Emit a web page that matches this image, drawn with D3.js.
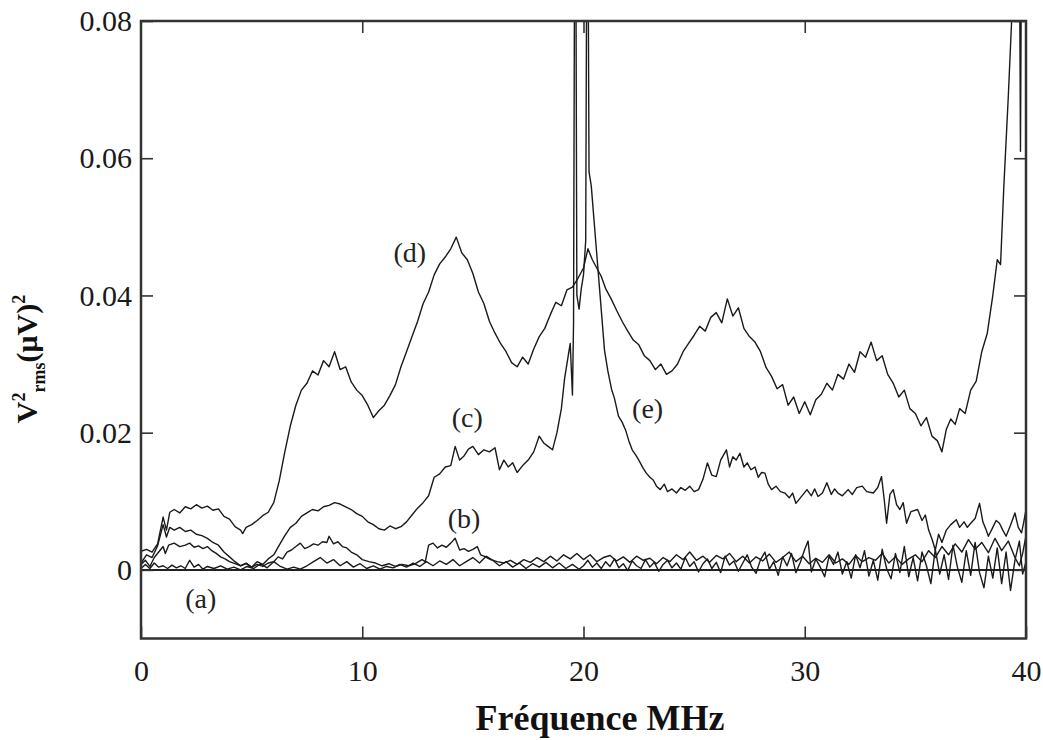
<!DOCTYPE html>
<html>
<head>
<meta charset="utf-8">
<script src="https://cdn.jsdelivr.net/npm/d3@7"></script>
<style>
  body { margin: 0; background: #fff; }
  svg text { font-family: "Liberation Serif", "Times New Roman", serif; }
</style>
</head>
<body>
<div id="chart"></div>
<script>
//constants and globals
const width = 1043,
  height = 740,
  plot = { left: 141, right: 1026, top: 21, bottom: 638.5 };

// tick values
const xTicks = [0, 10, 20, 30, 40];
const yTicks = [0, 0.02, 0.04, 0.06, 0.08];

// curve (a) : [MHz, V2rms]
const curveA = [[0,0.0002],[0.2,0.0008],[0.4,0.0002],[0.6,0.0010],[0.8,0.0004],[1.0,0.0006],[1.2,0.0002],[1.4,0.0007],[1.6,0.0003],[1.8,0.0006],[2.0,0.0002],[2.2,0.0014],[2.4,0.0004],[2.6,0.0008],[2.8,0.0001],[3.0,0.0005],[3.3,0.0002],[3.6,0.0006],[3.9,0.0001],[4.2,0.0004],[4.5,0.0000],[4.8,0.0005],[5.1,0.0002],[5.4,0.0009],[5.7,0.0003],[6.0,0.0012],[6.3,0.0005],[6.6,0.0001],[6.9,0.0004],[7.2,0.0001],[7.5,0.0006],[7.8,0.0012],[8.1,0.0018],[8.4,0.0010],[8.7,0.0015],[9.0,0.0006],[9.3,0.0012],[9.6,0.0004],[9.9,0.0009],[10.2,0.0002],[10.5,0.0006],[10.8,0.0001],[11.1,0.0005],[11.4,0.0003],[11.7,0.0008],[12.0,0.0004],[12.3,0.0010],[12.6,0.0005],[12.9,0.0012],[13.2,0.0006],[13.5,0.0013],[13.8,0.0008],[14.1,0.0015],[14.4,0.0006],[14.7,0.0012],[15.0,0.0018],[15.3,0.0010],[15.6,0.0020],[15.9,0.0014],[16.2,0.0006],[16.5,0.0012],[16.8,0.0004],[17.1,0.0010],[17.4,0.0002],[17.7,0.0009],[18.0,0.0004],[18.3,0.0011],[18.6,0.0003],[18.9,0.0010],[19.2,0.0002],[19.5,0.0008],[19.8,0.0001],[20.0,0.0006],[20.2,0.0014],[20.4,0.0004],[20.6,0.0010],[20.8,0.0002],[21.0,0.0012],[21.2,0.0005],[21.4,0.0016],[21.6,0.0003],[21.8,0.0009],[22.0,-0.0001],[22.2,0.0013],[22.4,0.0006],[22.6,0.0002],[22.8,0.0015],[23.0,0.0004],[23.2,0.0011],[23.4,-0.0002],[23.6,0.0008],[23.8,0.0014],[24.0,0.0003],[24.2,0.0010],[24.4,0.0001],[24.6,0.0018],[24.8,0.0005],[25.0,0.0012],[25.2,-0.0003],[25.4,0.0009],[25.6,0.0016],[25.8,0.0002],[26.0,0.0011],[26.2,-0.0004],[26.4,0.0020],[26.6,0.0007],[26.8,0.0013],[27.0,-0.0002],[27.2,0.0010],[27.4,0.0022],[27.6,0.0004],[27.8,-0.0005],[28.0,0.0015],[28.2,0.0026],[28.4,0.0001],[28.6,0.0012],[28.8,-0.0008],[29.0,0.0019],[29.2,0.0006],[29.4,0.0024],[29.6,-0.0004],[29.8,0.0011],[30.0,0.0030],[30.15,0.0042],[30.3,-0.0003],[30.5,0.0016],[30.7,0.0004],[30.9,-0.0010],[31.1,0.0020],[31.3,0.0008],[31.5,0.0026],[31.7,-0.0006],[31.9,0.0012],[32.1,-0.0012],[32.3,0.0022],[32.5,0.0003],[32.7,0.0028],[32.9,-0.0009],[33.1,0.0014],[33.3,-0.0015],[33.5,0.0030],[33.7,0.0002],[33.9,-0.0013],[34.1,0.0024],[34.3,-0.0004],[34.5,0.0034],[34.7,-0.0010],[34.9,0.0018],[35.1,-0.0016],[35.3,0.0026],[35.5,0.0006],[35.7,-0.0020],[35.9,0.0030],[36.1,-0.0006],[36.3,0.0022],[36.5,-0.0014],[36.7,0.0036],[36.9,0.0004],[37.1,-0.0018],[37.3,0.0028],[37.5,-0.0008],[37.7,0.0040],[37.9,-0.0004],[38.1,-0.0026],[38.3,0.0020],[38.5,-0.0012],[38.7,0.0032],[38.9,-0.0020],[39.1,0.0026],[39.3,-0.0030],[39.5,0.0014],[39.7,0.0042],[39.85,-0.0006],[40.0,0.0012]];

// curve (b)
const curveB = [[0,0.0008],[0.2,0.0014],[0.4,0.0005],[0.6,0.0018],[0.8,0.0026],[1.0,0.0034],[1.1,0.0024],[1.25,0.0036],[1.5,0.0039],[1.75,0.0034],[2.0,0.0036],[2.2,0.0039],[2.4,0.0033],[2.6,0.0035],[2.8,0.0031],[3.0,0.0034],[3.2,0.0028],[3.4,0.0024],[3.6,0.0019],[3.8,0.0016],[4.0,0.0012],[4.25,0.0009],[4.5,0.0006],[4.75,0.0009],[5.0,0.0004],[5.25,0.0008],[5.5,0.0005],[5.75,0.0010],[6.0,0.0012],[6.2,0.0019],[6.4,0.0016],[6.6,0.0026],[6.8,0.0029],[7.0,0.0034],[7.2,0.0039],[7.4,0.0031],[7.6,0.0034],[7.8,0.0038],[8.0,0.0036],[8.2,0.0041],[8.4,0.0040],[8.5,0.0049],[8.7,0.0038],[8.9,0.0041],[9.1,0.0034],[9.3,0.0032],[9.5,0.0026],[9.75,0.0022],[10.0,0.0015],[10.3,0.0012],[10.6,0.0010],[10.9,0.0006],[11.2,0.0009],[11.5,0.0005],[11.8,0.0008],[12.1,0.0006],[12.4,0.0009],[12.7,0.0015],[12.85,0.0012],[13.0,0.0036],[13.2,0.0039],[13.4,0.0032],[13.6,0.0036],[13.8,0.0033],[14.0,0.0039],[14.2,0.0046],[14.4,0.0029],[14.6,0.0031],[14.8,0.0027],[15.0,0.0030],[15.2,0.0034],[15.35,0.0022],[15.5,0.0020],[15.8,0.0015],[16.1,0.0012],[16.4,0.0010],[16.7,0.0014],[17.0,0.0008],[17.3,0.0015],[17.6,0.0011],[17.9,0.0018],[18.2,0.0012],[18.5,0.0020],[18.8,0.0013],[19.1,0.0022],[19.4,0.0016],[19.7,0.0024],[20.0,0.0015],[20.3,0.0022],[20.6,0.0012],[20.9,0.0018],[21.2,0.0021],[21.5,0.0013],[21.8,0.0019],[22.1,0.0011],[22.4,0.0020],[22.7,0.0014],[23.0,0.0017],[23.3,0.0009],[23.6,0.0018],[23.9,0.0012],[24.2,0.0022],[24.5,0.0015],[24.8,0.0026],[25.1,0.0014],[25.4,0.0020],[25.7,0.0011],[26.0,0.0021],[26.3,0.0016],[26.6,0.0024],[26.9,0.0012],[27.2,0.0020],[27.5,0.0010],[27.8,0.0019],[28.1,0.0013],[28.4,0.0023],[28.7,0.0011],[29.0,0.0018],[29.3,0.0026],[29.6,0.0012],[29.9,0.0020],[30.2,0.0009],[30.5,0.0017],[30.8,0.0011],[31.1,0.0022],[31.4,0.0010],[31.7,0.0016],[32.0,0.0008],[32.3,0.0021],[32.6,0.0012],[32.9,0.0018],[33.2,0.0014],[33.5,0.0024],[33.8,0.0010],[34.1,0.0019],[34.4,0.0008],[34.7,0.0016],[35.0,0.0022],[35.3,0.0012],[35.6,0.0028],[35.9,0.0018],[36.2,0.0034],[36.5,0.0022],[36.8,0.0038],[37.1,0.0026],[37.4,0.0044],[37.7,0.0030],[38.0,0.0040],[38.3,0.0025],[38.6,0.0046],[38.9,0.0028],[39.2,0.0042],[39.5,0.0018],[39.7,0.0006],[39.85,0.0024],[40.0,0.0050]];

// curve (c), up to the spikes near 20 MHz
const curveC = [[0,0.0010],[0.25,0.0022],[0.5,0.0018],[0.75,0.0035],[1.0,0.0066],[1.15,0.0048],[1.3,0.0062],[1.5,0.0058],[1.75,0.0062],[2.0,0.0056],[2.25,0.0058],[2.5,0.0052],[2.75,0.0050],[3.0,0.0046],[3.25,0.0040],[3.5,0.0036],[3.75,0.0026],[4.0,0.0019],[4.25,0.0012],[4.5,0.0006],[4.75,0.0010],[5.0,0.0004],[5.25,0.0012],[5.5,0.0008],[5.75,0.0016],[6.0,0.0022],[6.25,0.0036],[6.5,0.0050],[6.75,0.0062],[7.0,0.0068],[7.25,0.0078],[7.5,0.0083],[7.75,0.0088],[8.0,0.0086],[8.25,0.0092],[8.5,0.0094],[8.75,0.0098],[9.0,0.0096],[9.25,0.0092],[9.5,0.0088],[9.75,0.0082],[10.0,0.0078],[10.25,0.0070],[10.5,0.0066],[10.75,0.0060],[11.0,0.0058],[11.25,0.0064],[11.5,0.0060],[11.75,0.0063],[12.0,0.0070],[12.25,0.0080],[12.5,0.0090],[12.75,0.0098],[13.0,0.0108],[13.25,0.0135],[13.5,0.0140],[13.75,0.0150],[14.0,0.0152],[14.2,0.0180],[14.4,0.0160],[14.6,0.0166],[14.8,0.0176],[15.0,0.0180],[15.25,0.0168],[15.5,0.0175],[15.75,0.0172],[16.0,0.0178],[16.2,0.0146],[16.4,0.0160],[16.6,0.0150],[16.8,0.0156],[17.0,0.0142],[17.25,0.0152],[17.5,0.0160],[17.75,0.0172],[18.0,0.0195],[18.2,0.0185],[18.4,0.0180],[18.6,0.0175],[18.8,0.0200],[19.0,0.0235],[19.15,0.0280],[19.3,0.0310],[19.4,0.0330],[19.5,0.0255],[19.55,0.0360],[19.6,0.0950],[19.65,0.0950],[19.7,0.0400],[19.8,0.0380],[19.9,0.0410],[20.0,0.0430],[20.1,0.0480],[20.15,0.0950],[20.2,0.0950],[20.25,0.0580]];

// curve (e), falling from the 20 MHz peak
const curveE = [[20.25,0.0580],[20.35,0.0560],[20.5,0.0500],[20.65,0.0440],[20.8,0.0380],[20.95,0.0320],[21.1,0.0290],[21.27,0.0263],[21.4,0.0250],[21.58,0.0224],[21.75,0.0215],[21.9,0.0204],[22.05,0.0188],[22.2,0.0175],[22.35,0.0168],[22.5,0.0160],[22.7,0.0148],[22.84,0.0141],[23.0,0.0135],[23.15,0.0131],[23.3,0.0122],[23.47,0.0117],[23.65,0.0125],[23.8,0.0114],[24.0,0.0118],[24.2,0.0112],[24.4,0.0120],[24.6,0.0116],[24.8,0.0122],[25.0,0.0114],[25.2,0.0117],[25.4,0.0132],[25.6,0.0156],[25.8,0.0138],[26.0,0.0136],[26.2,0.0160],[26.46,0.0175],[26.6,0.0150],[26.75,0.0165],[26.9,0.0160],[27.07,0.0170],[27.25,0.0150],[27.4,0.0156],[27.57,0.0146],[27.75,0.0150],[27.9,0.0135],[28.05,0.0142],[28.2,0.0141],[28.35,0.0125],[28.5,0.0117],[28.7,0.0122],[28.9,0.0114],[29.1,0.0112],[29.3,0.0105],[29.45,0.0112],[29.6,0.0097],[29.8,0.0105],[30.1,0.0117],[30.3,0.0108],[30.45,0.0118],[30.6,0.0107],[30.8,0.0112],[31.0,0.0127],[31.2,0.0110],[31.35,0.0118],[31.5,0.0112],[31.7,0.0108],[31.96,0.0117],[32.15,0.0110],[32.35,0.0120],[32.6,0.0122],[32.8,0.0114],[33.1,0.0112],[33.3,0.0120],[33.47,0.0136],[33.6,0.0100],[33.7,0.0068],[33.85,0.0110],[34.0,0.0117],[34.15,0.0095],[34.3,0.0088],[34.45,0.0098],[34.6,0.0068],[34.8,0.0085],[35.1,0.0088],[35.3,0.0072],[35.45,0.0080],[35.6,0.0058],[35.75,0.0045],[35.9,0.0029],[36.05,0.0052],[36.2,0.0040],[36.4,0.0058],[36.6,0.0066],[36.85,0.0073],[37.0,0.0062],[37.2,0.0070],[37.35,0.0062],[37.5,0.0068],[37.7,0.0075],[37.9,0.0097],[38.05,0.0070],[38.2,0.0058],[38.3,0.0049],[38.5,0.0062],[38.65,0.0072],[38.8,0.0068],[38.95,0.0058],[39.1,0.0049],[39.3,0.0065],[39.5,0.0083],[39.65,0.0062],[39.8,0.0054],[39.9,0.0070],[40.0,0.0088]];

// curve (d)
const curveD = [[0,0.0027],[0.25,0.0030],[0.5,0.0026],[0.75,0.0038],[1.0,0.0077],[1.15,0.0058],[1.3,0.0084],[1.5,0.0088],[1.75,0.0083],[2.0,0.0092],[2.25,0.0089],[2.5,0.0095],[2.75,0.0090],[3.0,0.0093],[3.25,0.0087],[3.5,0.0089],[3.75,0.0078],[4.0,0.0074],[4.25,0.0063],[4.5,0.0058],[4.6,0.0053],[4.75,0.0062],[5.0,0.0066],[5.25,0.0072],[5.5,0.0079],[5.75,0.0084],[6.0,0.0098],[6.25,0.0130],[6.5,0.0172],[6.75,0.0210],[7.0,0.0240],[7.25,0.0262],[7.5,0.0272],[7.75,0.0290],[8.0,0.0284],[8.25,0.0305],[8.5,0.0296],[8.75,0.0318],[9.0,0.0292],[9.25,0.0296],[9.5,0.0274],[9.75,0.0262],[10.0,0.0254],[10.25,0.0240],[10.5,0.0222],[10.75,0.0232],[11.0,0.0240],[11.25,0.0254],[11.5,0.0270],[11.75,0.0296],[12.0,0.0318],[12.25,0.0340],[12.5,0.0362],[12.75,0.0388],[13.0,0.0405],[13.25,0.0430],[13.5,0.0446],[13.75,0.0456],[14.0,0.0468],[14.25,0.0485],[14.5,0.0462],[14.75,0.0452],[15.0,0.0432],[15.25,0.0405],[15.5,0.0388],[15.75,0.0362],[16.0,0.0345],[16.25,0.0330],[16.5,0.0318],[16.75,0.0302],[17.0,0.0296],[17.25,0.0310],[17.5,0.0300],[17.75,0.0322],[18.0,0.0340],[18.25,0.0352],[18.5,0.0372],[18.75,0.0390],[19.0,0.0385],[19.25,0.0408],[19.5,0.0412],[19.75,0.0425],[20.0,0.0440],[20.2,0.0468],[20.4,0.0452],[20.6,0.0440],[20.8,0.0428],[21.0,0.0410],[21.25,0.0395],[21.5,0.0378],[21.75,0.0362],[22.0,0.0348],[22.25,0.0335],[22.5,0.0328],[22.75,0.0312],[23.0,0.0305],[23.25,0.0292],[23.5,0.0300],[23.75,0.0285],[24.0,0.0290],[24.25,0.0300],[24.5,0.0318],[24.75,0.0330],[25.0,0.0342],[25.25,0.0355],[25.5,0.0348],[25.75,0.0368],[26.0,0.0375],[26.25,0.0360],[26.5,0.0395],[26.75,0.0370],[27.0,0.0382],[27.25,0.0352],[27.5,0.0340],[27.75,0.0332],[28.0,0.0318],[28.25,0.0295],[28.5,0.0282],[28.75,0.0264],[29.0,0.0270],[29.25,0.0240],[29.5,0.0252],[29.75,0.0228],[30.0,0.0245],[30.25,0.0226],[30.5,0.0248],[30.75,0.0256],[31.0,0.0272],[31.25,0.0262],[31.5,0.0285],[31.75,0.0278],[32.0,0.0300],[32.25,0.0288],[32.5,0.0318],[32.75,0.0310],[33.0,0.0332],[33.25,0.0305],[33.5,0.0312],[33.75,0.0285],[34.0,0.0272],[34.25,0.0252],[34.5,0.0262],[34.75,0.0235],[35.0,0.0228],[35.25,0.0210],[35.5,0.0222],[35.75,0.0195],[36.0,0.0188],[36.2,0.0172],[36.4,0.0205],[36.6,0.0220],[36.8,0.0212],[37.0,0.0235],[37.25,0.0228],[37.5,0.0262],[37.75,0.0275],[38.0,0.0318],[38.25,0.0345],[38.5,0.0400],[38.7,0.0452],[38.85,0.0445],[39.0,0.0560],[39.2,0.0690],[39.35,0.0800],[39.5,0.0950],[39.7,0.0950],[39.75,0.0610],[39.8,0.0950],[40.0,0.0950]];

// curve labels and where they sit (MHz, value)
const curveLabels = ["(a)", "(b)", "(c)", "(d)", "(e)"];
const labelFreq = [2.7, 14.6, 14.75, 12.15, 22.9];
const labelValue = [-0.0041, 0.0076, 0.0222, 0.0463, 0.0235];

let svg, xScale, yScale;

function init() {
  xScale = d3.scaleLinear()
    .domain([0, 40])
    .range([plot.left, plot.right]);

  yScale = d3.scaleLinear()
    .domain([-0.01, 0.08])
    .range([plot.bottom, plot.top]);

  svg = d3.select("#chart")
    .append("svg")
    .attr("width", width)
    .attr("height", height)
    .style("background", "#fff");

  svg.append("clipPath")
    .attr("id", "plotclip")
    .append("rect")
    .attr("x", plot.left)
    .attr("y", plot.top)
    .attr("width", plot.right - plot.left)
    .attr("height", plot.bottom - plot.top);

  // zero line
  svg.append("line")
    .attr("x1", xScale(0))
    .attr("x2", xScale(40))
    .attr("y1", yScale(0))
    .attr("y2", yScale(0))
    .attr("stroke", "#222")
    .attr("stroke-width", 2);

  const line = d3.line()
    .x(d => xScale(d[0]))
    .y(d => yScale(d[1]));

  const curves = svg.append("g").attr("clip-path", "url(#plotclip)");
  curves.selectAll("path")
    .data([curveA, curveB, curveC, curveE, curveD])
    .join("path")
    .attr("d", line)
    .attr("fill", "none")
    .attr("stroke", "#1a1a1a")
    .attr("stroke-width", 1.4)
    .attr("stroke-linejoin", "round");

  // axes with inward ticks
  const xAxisBottom = d3.axisBottom(xScale)
    .tickValues(xTicks)
    .tickSize(-12)
    .tickPadding(21)
    .tickFormat(d3.format("d"));

  const xAxisTop = d3.axisTop(xScale)
    .tickValues(xTicks.slice(1, -1))
    .tickSize(-12)
    .tickFormat("");

  const yAxisLeft = d3.axisLeft(yScale)
    .tickValues(yTicks)
    .tickSize(-12)
    .tickPadding(9)
    .tickFormat(d => d === 0 ? "0" : d.toFixed(2));

  const yAxisRight = d3.axisRight(yScale)
    .tickValues(yTicks)
    .tickSize(-12)
    .tickFormat("");

  const axes = [
    [xAxisBottom, `translate(0, ${plot.bottom})`],
    [xAxisTop, `translate(0, ${plot.top})`],
    [yAxisLeft, `translate(${plot.left}, 0)`],
    [yAxisRight, `translate(${plot.right}, 0)`]
  ];
  axes.forEach(([ax, tr]) => {
    const g = svg.append("g").attr("transform", tr).call(ax);
    g.select(".domain").remove();
    g.selectAll(".tick line").attr("stroke", "#333").attr("stroke-width", 1.6);
    g.selectAll(".tick text")
      .attr("font-size", 30)
      .attr("fill", "#1a1a1a")
      .style("font-family", "'Liberation Serif', serif");
  });

  // frame
  svg.append("rect")
    .attr("x", plot.left)
    .attr("y", plot.top)
    .attr("width", plot.right - plot.left)
    .attr("height", plot.bottom - plot.top)
    .attr("fill", "none")
    .attr("stroke", "#333")
    .attr("stroke-width", 2.5);

  // curve labels
  svg.selectAll(".curveLabel")
    .data(curveLabels)
    .join("text")
    .attr("class", "curveLabel")
    .attr("x", (d, i) => xScale(labelFreq[i]))
    .attr("y", (d, i) => yScale(labelValue[i]))
    .attr("dy", "0.35em")
    .attr("text-anchor", "middle")
    .attr("font-size", 28)
    .attr("fill", "#222")
    .text(d => d);

  // axis titles
  svg.append("text")
    .attr("x", 600)
    .attr("y", 730)
    .attr("text-anchor", "middle")
    .attr("font-size", 36)
    .attr("font-weight", "bold")
    .attr("fill", "#111")
    .text("Fréquence MHz");

  const yTitle = svg.append("text")
    .attr("transform", `translate(${37}, ${359})rotate(-90)`)
    .attr("text-anchor", "middle")
    .attr("font-size", 30)
    .attr("font-weight", "bold")
    .attr("fill", "#111");
  yTitle.append("tspan").text("V");
  yTitle.append("tspan").attr("font-size", 18).attr("dy", -12).text("2");
  yTitle.append("tspan").attr("font-size", 18).attr("dy", 20).text("rms");
  yTitle.append("tspan").attr("dy", -8).text("(μV)");
  yTitle.append("tspan").attr("font-size", 18).attr("dy", -12).text("2");
}

init();
</script>
</body>
</html>
